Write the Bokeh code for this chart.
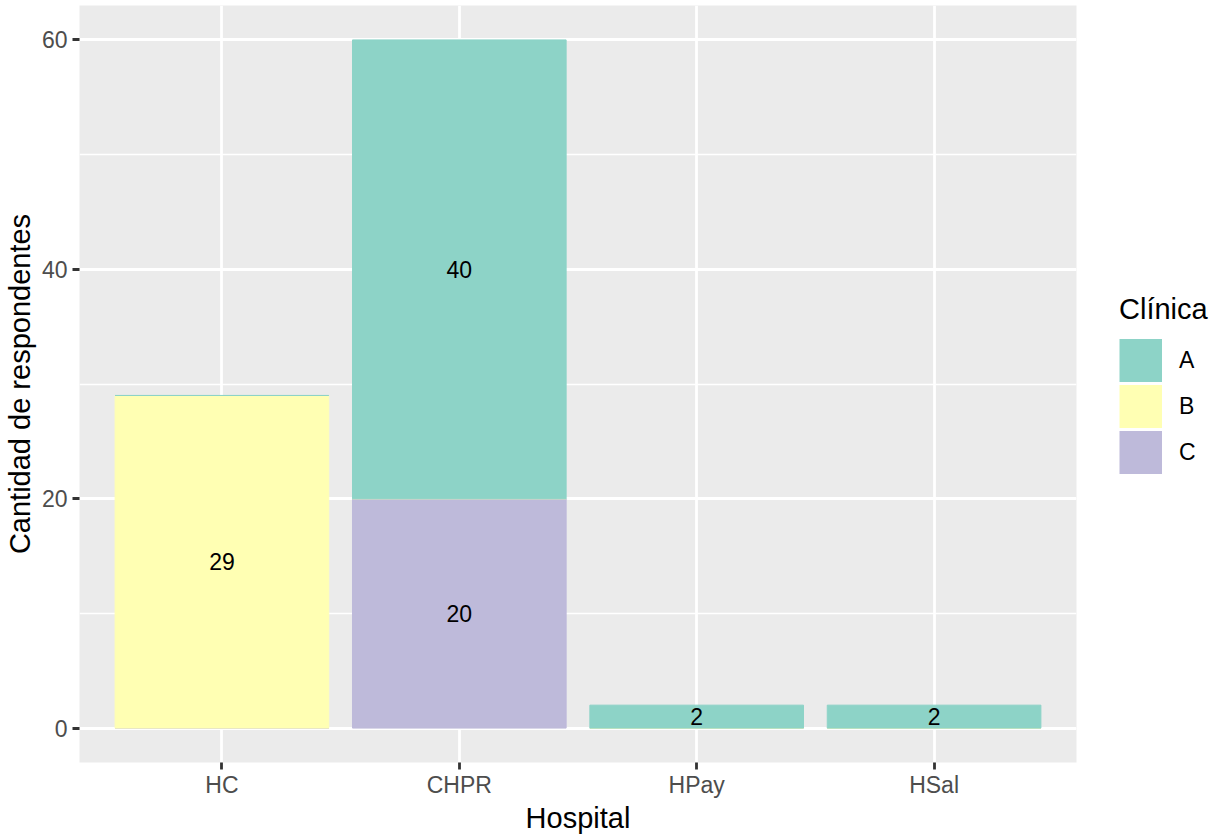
from bokeh.plotting import figure
from bokeh.models import (ColumnDataSource, FactorRange, Range1d, SingleIntervalTicker,
                          Legend, LegendItem)
from bokeh.core.properties import value
from bokeh.embed import file_html
from bokeh.resources import INLINE

# ---- data ----
hospitals = ["HC", "CHPR", "HPay", "HSal"]
clinica_A = [0, 40, 2, 2]
clinica_B = [29, 0, 0, 0]
clinica_C = [0, 20, 0, 0]
clinicas = ["A", "B", "C"]
clinica_colors = ["#8DD3C7", "#FFFFB3", "#BEBADA"]
y_tick_interval = 20

FONT = "Liberation Sans"

src = ColumnDataSource(dict(hospital=hospitals, A=clinica_A, B=clinica_B, C=clinica_C))

p = figure(x_range=FactorRange(factors=hospitals, range_padding=0.05),
           y_range=Range1d(-3, 63),
           frame_width=997, frame_height=757,
           output_backend="svg", toolbar_location=None,
           min_border_left=0, min_border_right=132, min_border_top=5, min_border_bottom=0)

p.background_fill_color = "#EBEBEB"
p.border_fill_color = "white"
p.outline_line_color = None

# stacked bars, bottom -> top : C, B, A
stack_order = ["C", "B", "A"]
col = dict(zip(clinicas, clinica_colors))
rs = p.vbar_stack(stack_order, x="hospital", width=0.9, source=src,
                  color=[col[k] for k in stack_order], line_width=1)

# labels at segment centers
vals = dict(A=clinica_A, B=clinica_B, C=clinica_C)
lab_x, lab_y, lab_t = [], [], []
for i, h in enumerate(hospitals):
    base = 0
    for k in stack_order:
        v = vals[k][i]
        if v > 0:
            lab_x.append(h)
            lab_y.append(base + v / 2)
            lab_t.append(str(v))
        base += v
p.text(x=lab_x, y=lab_y, text=lab_t, text_align="center", text_baseline="middle",
       text_font=value(FONT), text_font_size="23px", text_color="black")

# legend key renderers (hidden thick lines -> full square keys in the legend)
key_renderers = {}
for k, c in zip(clinicas, clinica_colors):
    key_renderers[k] = p.line(x="hospital", y=k, source=src, line_color=c,
                              line_width=43, line_cap="butt", visible=False)

# axes
p.yaxis.ticker = SingleIntervalTicker(interval=y_tick_interval, num_minor_ticks=2)
for ax in (p.xaxis, p.yaxis):
    ax.axis_line_color = None
    ax.major_tick_line_color = "#333333"
    ax.major_tick_line_width = 2.8
    ax.major_tick_out = 7
    ax.major_tick_in = 0
    ax.minor_tick_line_color = None
    ax.major_label_text_font = FONT
    ax.major_label_text_font_size = "23px"
    ax.major_label_text_color = "#4D4D4D"
    ax.axis_label_text_font = FONT
    ax.axis_label_text_font_size = "29px"
    ax.axis_label_text_font_style = "normal"
    ax.axis_label_text_color = "black"
p.xaxis.axis_label = "Hospital"
p.yaxis.axis_label = "Cantidad de respondentes"
p.xaxis.major_label_standoff = 2
p.xaxis.axis_label_standoff = 1
p.yaxis.major_label_standoff = 5
p.yaxis.axis_label_standoff = 3

# grid
p.xgrid.grid_line_color = "white"
p.xgrid.grid_line_width = 2.8
p.ygrid.grid_line_color = "white"
p.ygrid.grid_line_width = 2.8
p.ygrid.minor_grid_line_color = "white"
p.ygrid.minor_grid_line_width = 1.4

# legend (right side panel)
items = [LegendItem(label=k, renderers=[key_renderers[k]]) for k in clinicas]
legend = Legend(items=items, location=(43, 287), title="Clínica",
                title_text_font=FONT, title_text_font_size="29px",
                title_text_font_style="normal", title_text_color="black",
                title_standoff=11,
                label_text_font=FONT, label_text_font_size="23px", label_text_color="black",
                label_standoff=17, label_height=46,
                glyph_width=43, glyph_height=46, spacing=0,
                padding=0, margin=0, border_line_color=None, background_fill_alpha=0)
p.add_layout(legend, "right")

open("out.html", "w").write(file_html(p, INLINE))
